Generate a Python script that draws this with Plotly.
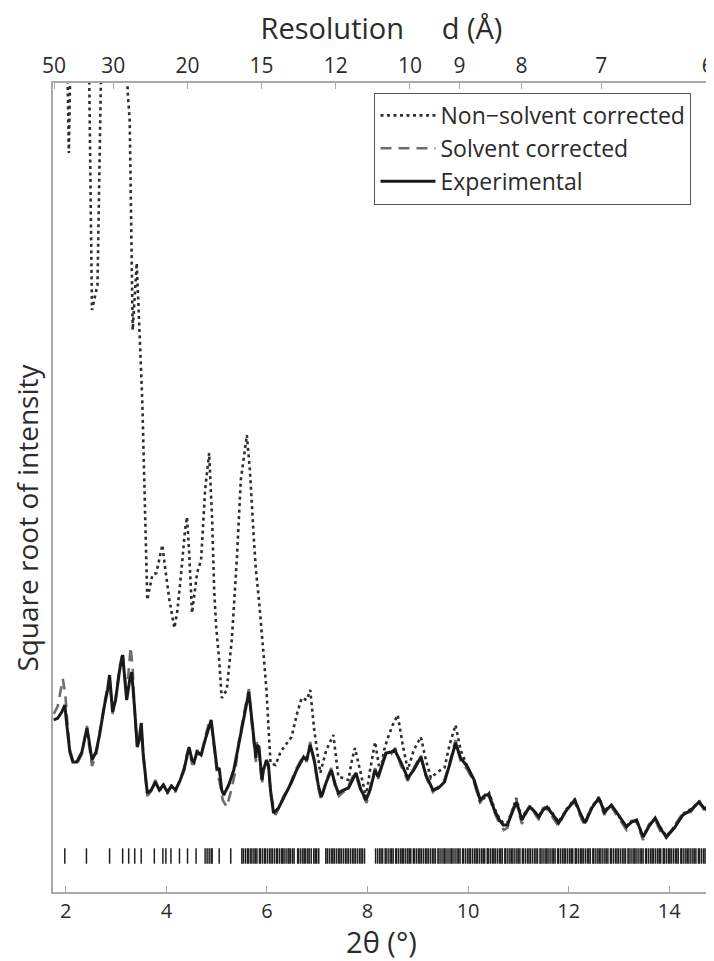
import math
import plotly.graph_objects as go

# 2-theta (deg) and square-root intensity (arbitrary units)
exp_x = [1.76, 1.84, 1.92, 1.98, 2.02, 2.08, 2.14, 2.22, 2.32, 2.42, 2.46, 2.52, 2.60, 2.67,
         2.77, 2.83, 2.87, 2.93, 2.99, 3.07, 3.13, 3.17, 3.21, 3.27, 3.31, 3.37, 3.42, 3.46,
         3.50, 3.54, 3.62, 3.70, 3.78, 3.86, 3.94, 4.02, 4.10, 4.18, 4.26, 4.35, 4.41, 4.45,
         4.51, 4.55, 4.61, 4.69, 4.77, 4.85, 4.89, 4.95, 5.01, 5.05, 5.10, 5.14, 5.24, 5.34,
         5.44, 5.54, 5.64, 5.70, 5.78, 5.80, 5.84, 5.90, 5.93, 5.99, 6.03, 6.07, 6.13, 6.23,
         6.33, 6.43, 6.49, 6.59, 6.73, 6.79, 6.86, 6.94, 7.02, 7.08, 7.18, 7.28, 7.36, 7.42,
         7.52, 7.62, 7.71, 7.77, 7.87, 7.97, 8.05, 8.15, 8.21, 8.29, 8.37, 8.47, 8.54, 8.66,
         8.80, 8.92, 9.06, 9.16, 9.30, 9.41, 9.53, 9.63, 9.75, 9.85, 9.99, 10.12, 10.24, 10.34,
         10.42, 10.52, 10.62, 10.70, 10.78, 10.88, 10.96, 11.01, 11.07, 11.15, 11.23, 11.33,
         11.41, 11.49, 11.57, 11.69, 11.80, 11.96, 12.12, 12.22, 12.32, 12.46, 12.60, 12.71,
         12.79, 12.85, 12.99, 13.15, 13.25, 13.35, 13.48, 13.60, 13.72, 13.82, 13.94, 14.10,
         14.27, 14.43, 14.59, 14.69, 14.81]
exp_y = [172, 174, 180, 187, 167, 140, 130, 130, 140, 164, 152, 132, 140, 157,
         187, 202, 217, 180, 192, 222, 237, 212, 192, 212, 220, 182, 145, 152,
         169, 137, 99, 102, 110, 102, 107, 100, 106, 102, 110, 122, 137, 145,
         132, 130, 140, 137, 152, 167, 172, 147, 122, 124, 102, 97, 107, 122,
         147, 174, 200, 172, 134, 147, 145, 112, 122, 132, 127, 102, 79, 84,
         94, 104, 110, 122, 135, 132, 147, 132, 107, 95, 110, 122, 107, 99,
         102, 104, 114, 119, 102, 92, 102, 122, 115, 127, 139, 140, 142, 130,
         114, 122, 135, 117, 102, 104, 110, 127, 149, 134, 125, 112, 92, 97,
         97, 82, 72, 67, 67, 80, 90, 82, 72, 80, 85, 80,
         75, 82, 85, 77, 69, 82, 92, 80, 69, 84, 94, 80,
         84, 87, 77, 65, 70, 72, 55, 66, 74, 64, 55, 64,
         77, 82, 90, 84, 80]

solv_x = [1.76, 1.84, 1.94, 1.99, 2.03, 2.08, 2.14, 2.22, 2.32, 2.42, 2.46, 2.52, 2.60, 2.67,
          2.77, 2.83, 2.87, 2.93, 2.99, 3.07, 3.13, 3.17, 3.21, 3.29, 3.33, 3.37, 3.42, 3.47,
          3.50, 3.55, 3.62, 3.70, 3.78, 3.86, 3.94, 4.02, 4.10, 4.18, 4.26, 4.35, 4.41, 4.45,
          4.51, 4.55, 4.61, 4.69, 4.77, 4.85, 4.89, 4.95, 5.01, 5.06, 5.12, 5.20, 5.28, 5.36,
          5.44, 5.54, 5.64, 5.70, 5.78, 5.80, 5.84, 5.90, 5.93, 5.99, 6.03, 6.08, 6.17, 6.25,
          6.33, 6.43, 6.49, 6.59, 6.73, 6.79, 6.86, 6.94, 7.02, 7.08, 7.18, 7.28, 7.36, 7.43,
          7.52, 7.62, 7.71, 7.77, 7.87, 7.98, 8.05, 8.15, 8.21, 8.29, 8.37, 8.47, 8.55, 8.66,
          8.80, 8.92, 9.06, 9.17, 9.30, 9.41, 9.53, 9.63, 9.75, 9.85, 9.99, 10.12, 10.24, 10.34,
          10.42, 10.52, 10.62, 10.71, 10.78, 10.88, 10.96, 11.01, 11.07, 11.15, 11.23, 11.33,
          11.41, 11.49, 11.57, 11.69, 11.80, 11.96, 12.12, 12.22, 12.32, 12.46, 12.60, 12.71,
          12.79, 12.85, 12.99, 13.15, 13.25, 13.35, 13.48, 13.60, 13.72, 13.82, 13.94, 14.10,
          14.27, 14.43, 14.59, 14.69, 14.81]
solv_y = [178, 186, 213, 198, 170, 142, 132, 128, 138, 166, 148, 126, 136, 160,
          190, 204, 214, 178, 194, 225, 240, 216, 198, 245, 222, 180, 146, 158,
          165, 132, 96, 101, 112, 100, 108, 98, 107, 100, 112, 124, 138, 143,
          128, 128, 142, 135, 155, 170, 170, 142, 118, 110, 92, 85, 100, 118,
          150, 178, 203, 168, 130, 150, 142, 108, 124, 130, 124, 96, 77, 86,
          96, 103, 112, 124, 137, 130, 150, 130, 104, 92, 112, 124, 104, 96,
          100, 106, 116, 117, 100, 89, 104, 124, 113, 129, 141, 138, 144, 127,
          111, 124, 137, 114, 100, 106, 112, 129, 152, 131, 122, 109, 89, 99,
          95, 80, 69, 62, 64, 82, 93, 79, 68, 78, 87, 78,
          72, 84, 83, 74, 66, 84, 90, 77, 66, 86, 92, 77,
          86, 85, 74, 62, 71, 70, 52, 68, 72, 61, 54, 66,
          79, 80, 92, 82, 78]

nonsolv_x = [1.76, 1.96, 2.06, 2.16, 2.40, 2.52, 2.63, 2.79, 3.13, 3.23, 3.27, 3.33, 3.41,
             3.46, 3.52, 3.62, 3.66, 3.72, 3.80, 3.86, 3.92, 3.98, 4.06, 4.16, 4.22, 4.30,
             4.37, 4.41, 4.45, 4.51, 4.57, 4.61, 4.69, 4.77, 4.85, 4.91, 4.95, 4.99, 5.05,
             5.10, 5.20, 5.30, 5.40, 5.48, 5.60, 5.66, 5.74, 5.78, 5.84, 5.90, 5.93, 5.99,
             6.07, 6.17, 6.27, 6.37, 6.49, 6.59, 6.69, 6.79, 6.86, 6.94, 7.06, 7.18, 7.32,
             7.38, 7.42, 7.52, 7.62, 7.69, 7.75, 7.85, 7.97, 8.05, 8.15, 8.25, 8.33, 8.41,
             8.50, 8.60, 8.70, 8.80, 8.92, 9.06, 9.16, 9.26, 9.39, 9.53, 9.63, 9.75, 9.85,
             9.99, 10.12, 10.24, 10.34, 10.42, 10.52, 10.62, 10.70, 10.78, 10.88, 10.96,
             11.01, 11.07, 11.15, 11.23, 11.33, 11.41, 11.49, 11.57, 11.69, 11.80, 11.96,
             12.12, 12.22, 12.32, 12.46, 12.60, 12.71, 12.79, 12.85, 12.99, 13.15, 13.25,
             13.35, 13.48, 13.60, 13.72, 13.82, 13.94, 14.10, 14.27, 14.43, 14.59, 14.69, 14.81]
nonsolv_y = [1042, 1042, 739, 1042, 1092, 582, 607, 1092, 992, 800, 772, 562, 629,
             562, 492, 292, 302, 317, 319, 332, 347, 322, 292, 264, 282, 322,
             362, 375, 342, 279, 307, 319, 332, 402, 439, 372, 302, 265, 232,
             194, 202, 252, 332, 412, 457, 422, 352, 322, 292, 252, 239, 202,
             129, 127, 140, 147, 155, 177, 194, 192, 202, 162, 119, 142, 157,
             132, 115, 114, 112, 132, 144, 122, 95, 122, 150, 119, 142, 155,
             167, 177, 147, 122, 142, 155, 132, 114, 120, 124, 147, 167, 142,
             125, 110, 90, 95, 99, 84, 74, 69, 69, 82, 94,
             84, 74, 81, 86, 79, 76, 83, 86, 78, 70, 83,
             93, 79, 70, 85, 95, 81, 85, 86, 76, 66, 71,
             71, 56, 67, 73, 65, 56, 65, 78, 83, 89, 85, 81]

# reflection positions (2-theta) shown as the row of short bars
refl_x = [1.98, 2.41, 2.87, 3.13, 3.25, 3.37, 3.50, 3.76, 3.93, 3.99, 4.09, 4.26, 4.42,
          4.59, 4.77, 4.81, 4.85, 4.89, 4.91, 5.05, 5.28,
          5.50, 5.53, 5.57, 5.61, 5.63, 5.67, 5.70, 5.74, 5.77, 5.80, 5.85, 5.87, 5.91,
          5.95, 5.97, 6.01, 6.05, 6.08, 6.11, 6.15, 6.19, 6.21, 6.25, 6.29, 6.31, 6.34,
          6.38, 6.42, 6.44, 6.47, 6.51, 6.54, 6.61, 6.63, 6.67, 6.71, 6.74, 6.77, 6.81,
          6.84, 6.88, 6.93, 6.96, 6.99, 7.03, 7.17, 7.20, 7.24, 7.28, 7.31, 7.34, 7.38,
          7.42, 7.45, 7.48, 7.52, 7.56, 7.59, 7.62, 7.66, 7.70, 7.73, 7.76, 7.80, 7.84,
          7.87, 7.90, 7.94,
          8.16, 8.20, 8.24, 8.27, 8.30, 8.35, 8.37, 8.41, 8.45, 8.48, 8.51, 8.56, 8.58,
          8.62, 8.66, 8.69, 8.72, 8.76, 8.80, 8.83, 8.86, 8.91, 8.93, 8.97, 9.01, 9.04,
          9.07, 9.11, 9.15, 9.18, 9.21, 9.25, 9.29, 9.32, 9.35, 9.40, 9.42, 9.46, 9.50,
          9.53, 9.56, 9.60, 9.64, 9.67, 9.70, 9.74, 9.78, 9.81, 9.84, 9.89, 9.91, 9.95,
          9.99, 10.02, 10.05, 10.09, 10.13, 10.16, 10.19, 10.23, 10.27, 10.30, 10.33,
          10.38, 10.40, 10.44, 10.48, 10.51, 10.54, 10.58, 10.62, 10.65, 10.68, 10.73,
          10.75, 10.79, 10.83, 10.86, 10.89, 10.93, 10.97, 11.00, 11.03, 11.08, 11.10,
          11.14, 11.18, 11.21, 11.24, 11.28, 11.32, 11.35, 11.38, 11.43, 11.45, 11.49,
          11.53, 11.56, 11.59, 11.63, 11.67, 11.70, 11.73, 11.78, 11.80, 11.84, 11.88,
          11.91, 11.94, 11.98, 12.02, 12.05, 12.08, 12.13, 12.15, 12.19, 12.23, 12.26,
          12.29, 12.33, 12.37, 12.40, 12.43, 12.48, 12.50, 12.54, 12.58, 12.61, 12.64,
          12.68, 12.72, 12.75, 12.78, 12.83, 12.85, 12.89, 12.93, 12.96, 12.99, 13.03,
          13.07, 13.10, 13.13, 13.18, 13.20, 13.24, 13.28, 13.31, 13.34, 13.38, 13.42,
          13.45, 13.48, 13.53, 13.55, 13.59, 13.63, 13.66, 13.69, 13.73, 13.77, 13.80,
          13.83, 13.88, 13.90, 13.94, 13.98, 14.01, 14.04, 14.08, 14.12, 14.15, 14.18,
          14.23, 14.25, 14.29, 14.33, 14.36, 14.39, 14.43, 14.47, 14.50, 14.53, 14.58,
          14.60, 14.64, 14.68, 14.71, 14.74, 14.78]
refl_level = 36

bottom_ticks = [2, 4, 6, 8, 10, 12, 14]
d_ticks = [50, 30, 20, 15, 12, 10, 9, 8, 7, 6]
wavelength = 1.5418  # Cu K-alpha, used to place the resolution axis

x_range = [1.745, 14.81]
y_range = [0, 809]

top_pos = [2 * math.degrees(math.asin(wavelength / (2 * d))) for d in d_ticks]

font = 'Open Sans'
axis_grey = '#a9a9a9'
text_col = '#2b2b2b'

fig = go.Figure()

fig.add_trace(go.Scatter(
    x=nonsolv_x, y=nonsolv_y, mode='lines', name='Non\u2212solvent corrected',
    line=dict(color='#2e2e2e', width=2.6, dash='3px,3.5px')
))
fig.add_trace(go.Scatter(
    x=solv_x, y=solv_y, mode='lines', name='Solvent corrected',
    line=dict(color='#6e6e6e', width=2.6, dash='11px,7px')
))
fig.add_trace(go.Scatter(
    x=exp_x, y=exp_y, mode='lines', name='Experimental',
    line=dict(color='#1a1a1a', width=3)
))
fig.add_trace(go.Scatter(
    x=refl_x, y=[refl_level] * len(refl_x), mode='markers', showlegend=False,
    marker=dict(symbol='line-ns-open', size=11, color='#1e1e1e',
                line=dict(color='#1e1e1e', width=1.5))
))
# empty trace so the resolution axis on top gets drawn
fig.add_trace(go.Scatter(
    x=top_pos, y=[None] * len(top_pos), xaxis='x2', mode='markers',
    showlegend=False, hoverinfo='skip'
))

# the page adds an 8 px body margin, so the figure is 8 px smaller than the window
fig.update_layout(
    width=706, height=953,
    margin=dict(l=45, r=0, t=75, b=69),
    paper_bgcolor='white', plot_bgcolor='white',
    font=dict(family=font, color=text_col),
    showlegend=True,
    legend=dict(
        x=0.489, y=0.988, xanchor='left', yanchor='top',
        bgcolor='white', bordercolor='#555555', borderwidth=1.2,
        font=dict(size=23, color=text_col), itemwidth=55,
        tracegroupgap=0
    ),
    xaxis=dict(
        range=x_range, tickvals=bottom_ticks, ticks='inside', ticklen=6,
        tickcolor=axis_grey, showline=True, linecolor=axis_grey, linewidth=1.6,
        showgrid=False, zeroline=False, tickfont=dict(size=20, color=text_col),
        title=dict(text='2\u03b8 (\u00b0)', font=dict(size=29, color=text_col), standoff=3)
    ),
    xaxis2=dict(
        range=x_range, overlaying='x', side='top', anchor='y',
        tickvals=top_pos, ticktext=[str(d) for d in d_ticks],
        ticks='inside', ticklen=6, tickcolor=axis_grey,
        showline=True, linecolor=axis_grey, linewidth=1.6, ticklabeloverflow='allow',
        showgrid=False, zeroline=False, tickfont=dict(size=21, color=text_col),
        title=dict(text='Resolution\u00a0\u00a0\u00a0\u00a0\u00a0d (\u00c5)',
                   font=dict(size=29, color=text_col), standoff=4)
    ),
    yaxis=dict(
        range=y_range, showticklabels=False, ticks='', showgrid=False, zeroline=False,
        showline=True, linecolor=axis_grey, linewidth=1.6
    ),
    annotations=[dict(
        text='Square root of intensity', textangle=-90,
        xref='paper', yref='paper', x=-0.0393, y=0.463,
        xanchor='center', yanchor='middle', showarrow=False,
        font=dict(size=28, color=text_col)
    )]
)

fig.write_html('out.html')
